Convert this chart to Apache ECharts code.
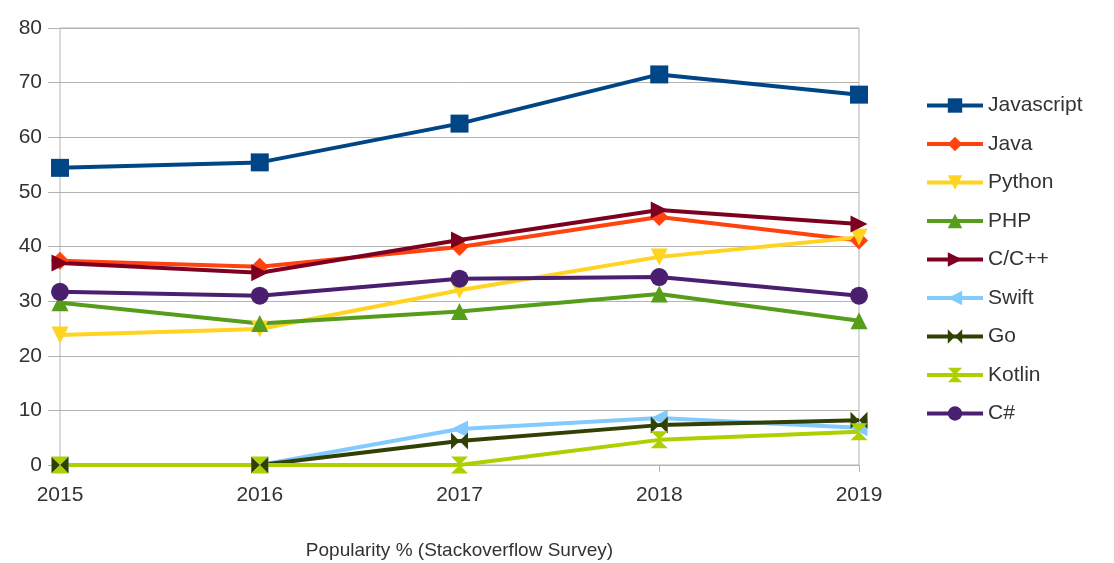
<!DOCTYPE html>
<html>
<head>
<meta charset="utf-8">
<script src="https://cdn.jsdelivr.net/npm/echarts@6/dist/echarts.min.js"></script>
<style>
html, body { margin: 0; padding: 0; background: #fff; }
#chart { width: 1114px; height: 563px; }
</style>
</head>
<body>
<div id="chart"></div>
<script>
"use strict";

/*****Data start*****/
var years = ['2015', '2016', '2017', '2018', '2019'];
var javascriptVals = [54.4, 55.4, 62.5, 71.5, 67.8];
var javaVals = [37.4, 36.3, 39.9, 45.4, 41.1];
var pythonVals = [23.8, 24.9, 32.0, 38.1, 41.7];
var phpVals = [29.7, 25.9, 28.1, 31.3, 26.4];
var cppVals = [37.0, 35.2, 41.2, 46.7, 44.1];
var swiftVals = [0, 0, 6.6, 8.6, 6.8];
var goVals = [0, 0, 4.4, 7.3, 8.2];
var kotlinVals = [0, 0, 0, 4.6, 6.1];
var csharpVals = [31.7, 31.0, 34.1, 34.4, 31.0];
var yTicks = [0, 10, 20, 30, 40, 50, 60, 70, 80];
/*****Data end*****/

var bowtie = 'path://M0,0 L0,10 L10,0 L10,10 Z';
var hourglass = 'path://M0,0 L10,0 L0,10 L10,10 Z';

var seriesList = [
	{ name: 'Javascript', data: javascriptVals, color: '#004586', symbol: 'rect', size: 18, rotate: 0 },
	{ name: 'Java', data: javaVals, color: '#ff420e', symbol: 'diamond', size: 18, rotate: 0 },
	{ name: 'Python', data: pythonVals, color: '#ffd320', symbol: 'triangle', size: 17, rotate: 180 },
	{ name: 'PHP', data: phpVals, color: '#579d1c', symbol: 'triangle', size: 17, rotate: 0 },
	{ name: 'C/C++', data: cppVals, color: '#7e0021', symbol: 'triangle', size: 17, rotate: -90 },
	{ name: 'Swift', data: swiftVals, color: '#83caff', symbol: 'triangle', size: 17, rotate: 90 },
	{ name: 'Go', data: goVals, color: '#314004', symbol: bowtie, size: 17, rotate: 0 },
	{ name: 'Kotlin', data: kotlinVals, color: '#aecf00', symbol: hourglass, size: 17, rotate: 0 },
	{ name: 'C#', data: csharpVals, color: '#4b1f6f', symbol: 'circle', size: 18, rotate: 0 }
];

var echartsConfig = function() {
	var chart = echarts.init(document.getElementById('chart'));
	var option = {
		animation: false,
		textStyle: { fontFamily: "'Liberation Sans', Arial, sans-serif" },
		grid: {
			show: true,
			left: 60,
			right: 255,
			top: 28,
			bottom: 98,
			outerBoundsMode: 'none',
			containLabel: false,
			borderColor: '#b3b3b3',
			borderWidth: 1
		},
		legend: {
			orient: 'vertical',
			left: 920,
			top: 90,
			itemWidth: 56,
			itemHeight: 18,
			itemGap: 17.5,
			lineStyle: { width: 4 },
			textStyle: { fontSize: 21, color: '#333' },
			data: seriesList.map(function (s) { return s.name; })
		},
		xAxis: {
			type: 'category',
			boundaryGap: false,
			data: years,
			name: 'Popularity % (Stackoverflow Survey)',
			nameLocation: 'middle',
			nameGap: 76,
			nameTextStyle: { fontSize: 19, color: '#333' },
			axisLine: { show: true, lineStyle: { color: '#b3b3b3', width: 1 } },
			axisTick: { show: true, length: 7, lineStyle: { color: '#b3b3b3' } },
			axisLabel: { fontSize: 21, color: '#333', margin: 20 },
			splitLine: { show: false }
		},
		yAxis: {
			type: 'value',
			min: yTicks[0],
			max: yTicks[yTicks.length - 1],
			interval: 10,
			axisLine: { show: false },
			axisTick: { show: true, length: 12, lineStyle: { color: '#b3b3b3' } },
			axisLabel: { fontSize: 21, color: '#333', margin: 18 },
			splitLine: { show: true, lineStyle: { color: '#b3b3b3', width: 1 } }
		},
		series: seriesList.map(function (s) {
			return {
				name: s.name,
				type: 'line',
				data: s.data,
				symbol: s.symbol,
				symbolSize: s.size,
				symbolRotate: s.rotate,
				showAllSymbol: true,
				color: s.color,
				lineStyle: { width: 4, color: s.color },
				itemStyle: { color: s.color }
			};
		})
	};
	chart.setOption(option);
};

echartsConfig();
</script>
</body>
</html>
